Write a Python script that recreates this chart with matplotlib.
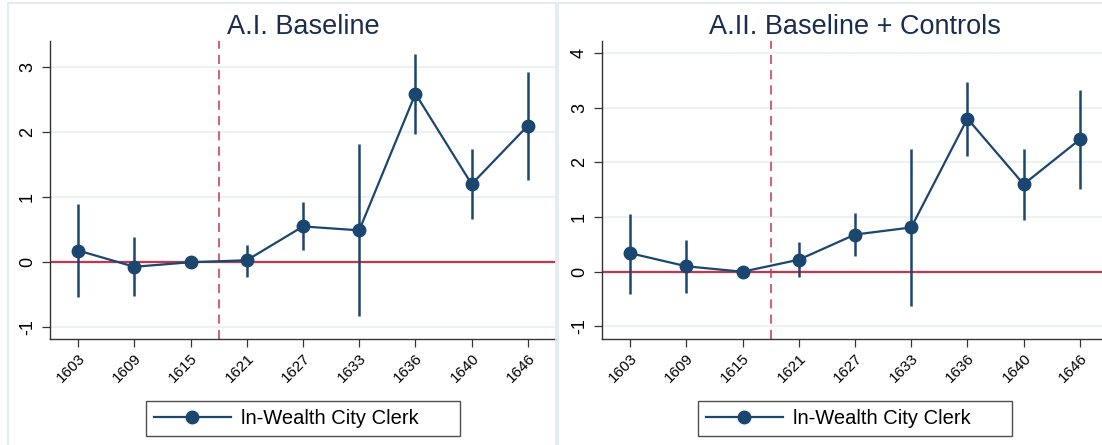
import matplotlib.pyplot as plt
from matplotlib.patches import Rectangle
from matplotlib.lines import Line2D

plt.rcParams['font.family'] = ['Liberation Sans', 'DejaVu Sans']

# event-study coefficients, omitted period 1615
years = ['1603', '1609', '1615', '1621', '1627', '1633', '1636', '1640', '1646']

base_coef = [0.18, -0.07, 0.0, 0.03, 0.55, 0.49, 2.59, 1.20, 2.10]
base_lo = [-0.54, -0.52, 0.0, -0.22, 0.19, -0.83, 1.97, 0.66, 1.26]
base_hi = [0.90, 0.38, 0.0, 0.27, 0.92, 1.81, 3.20, 1.74, 2.93]

ctrl_coef = [0.34, 0.10, 0.0, 0.22, 0.68, 0.81, 2.80, 1.60, 2.42]
ctrl_lo = [-0.40, -0.38, 0.0, -0.10, 0.28, -0.62, 2.12, 0.95, 1.51]
ctrl_hi = [1.06, 0.58, 0.0, 0.54, 1.08, 2.24, 3.47, 2.25, 3.32]

titles = ['A.I. Baseline', 'A.II. Baseline + Controls']
ylims = [(-1.18, 3.4), (-1.23, 4.22)]
yticks = [[-1, 0, 1, 2, 3], [-1, 0, 1, 2, 3, 4]]

navy = '#1a466f'
red = '#c8344c'
W, H = 1102, 445

fig = plt.figure(figsize=(W / 100, H / 100), dpi=100)

# light panel frames like Stata's graph combine
for x0, x1 in [(8, 556), (558, 1110)]:
    fig.patches.append(Rectangle((x0 / W, -0.01), (x1 - x0) / W, (H - 3) / H + 0.01,
                                 transform=fig.transFigure, fill=False,
                                 edgecolor='#dfeaea', linewidth=1.2))

axes_left = [50, 602]
data = [(base_coef, base_lo, base_hi), (ctrl_coef, ctrl_lo, ctrl_hi)]

for i in range(2):
    ax = fig.add_axes([axes_left[i] / W, (H - 339) / H, 506 / W, 298 / H])
    coef, lo, hi = data[i]
    x = list(range(len(years)))

    for yv in yticks[i]:
        ax.axhline(yv, color='#e9f0f0', linewidth=1.2, zorder=0)
    ax.axhline(0, color=red, linewidth=1.6, zorder=1)
    ax.axvline(2.5, color=red, linewidth=1.1, linestyle=(0, (6, 4)), zorder=1)

    ax.vlines(x, lo, hi, color=navy, linewidth=1.8, zorder=2)
    ax.plot(x, coef, color=navy, linewidth=1.6, marker='o', markersize=9,
            zorder=3)

    ax.set_xlim(-0.5, 8.5)
    ax.set_ylim(*ylims[i])
    ax.set_xticks(x)
    ax.set_xticklabels(years, rotation=45, ha='right', rotation_mode='anchor',
                       fontsize=11)
    ax.set_yticks(yticks[i])
    ax.set_yticklabels([str(v) for v in yticks[i]], rotation=90, va='center',
                       fontsize=13)
    ax.tick_params(length=6, width=0.9, color='#333333', pad=4)
    ax.tick_params(axis='x', pad=3)
    for s in ['top', 'right']:
        ax.spines[s].set_visible(False)
    for s in ['left', 'bottom']:
        ax.spines[s].set_color('#333333')
        ax.spines[s].set_linewidth(1.0)
    ax.set_title(titles[i], fontsize=19.5, color='#1c2c4e', pad=5)

    handle = Line2D([], [], color=navy, linewidth=1.6, marker='o', markersize=9)
    leg = ax.legend([handle], ['ln-Wealth City Clerk'], loc='upper left',
                    bbox_to_anchor=(0.19, (339 - 401) / 298, 0.62, 0),
                    mode='expand', borderaxespad=0, fontsize=14.5,
                    frameon=True, fancybox=False, handlelength=3.8,
                    handletextpad=0.5, borderpad=0.4, edgecolor='#222222')
    leg.get_frame().set_linewidth(1.0)

fig.savefig('out.png', dpi=100)
